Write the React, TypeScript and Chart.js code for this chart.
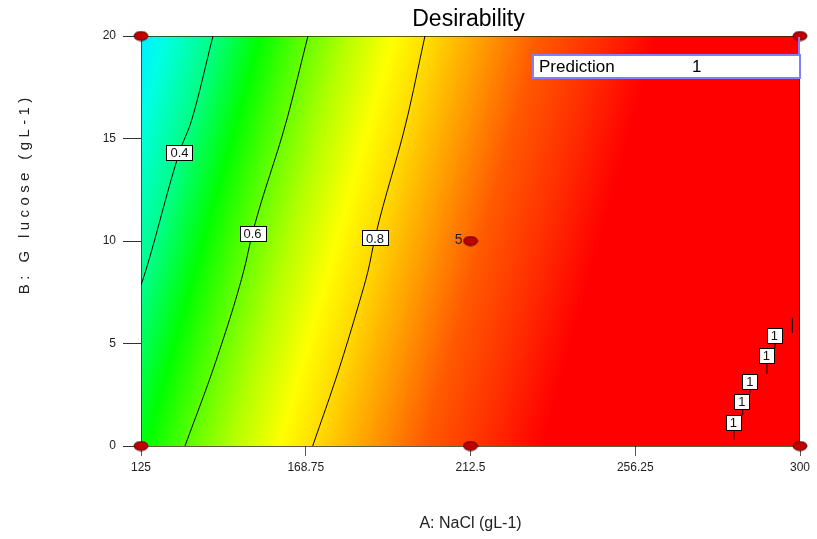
import React, { useEffect, useRef } from 'react';
import { Chart, registerables } from 'chart.js';
Chart.register(...registerables);

// ---------- data ----------
const xTicks = [125, 168.75, 212.5, 256.25, 300];
const yTicks = [0, 5, 10, 15, 20];
const xMin = 125;
const xMax = 300;
const yMin = 0;
const yMax = 20;

const chartTitle = 'Desirability';
const xTitle = 'A: NaCl (gL-1)';
const yTitle = 'B: G lucose (gL-1)';

// design points (NaCl, Glucose) and replicate counts
const designX = [125, 125, 212.5, 212.5, 300, 300];
const designY = [0, 20, 0, 10, 0, 20];
const designReps = [1, 1, 1, 5, 1, 1];

// contour lines
const contour04X = [125, 126.33, 135.22, 138.46, 144.12];
const contour04Y = [7.85, 8.59, 14.34, 15.9, 20];
const contour06X = [136.68, 145.0, 152.35, 154.61, 163.69, 169.34];
const contour06Y = [0, 4.2, 8.59, 10.39, 15.9, 20];
const contour08X = [170.59, 177.5, 183.15, 185.36, 187.13, 195.55, 200.41];
const contour08Y = [0, 3.7, 7.12, 8.59, 10.15, 15.9, 20];
const contour1X = [282.46, 282.46, null, 284.77, 284.77, null, 286.71, 286.71, null, 291.22, 291.22, null, 293.35, 293.35, null, 297.97, 297.97];
const contour1Y = [0.29, 0.83, null, 1.51, 1.8, null, 2.54, 2.83, null, 3.51, 4.05, null, 4.78, 5.02, null, 5.51, 6.24];

// contour labels
const contourLabelText = ['0.4', '0.6', '0.8', '1', '1', '1', '1', '1'];
const contourLabelX = [135.22, 154.61, 187.13, 282.33, 284.59, 286.71, 291.09, 293.22];
const contourLabelY = [14.34, 10.39, 10.15, 1.17, 2.17, 3.17, 4.41, 5.39];

// prediction flag
const predictionName = 'Prediction';
const predictionValue = 1;
const predictionX = 300;
const predictionY = 20;

// desirability colour ramp: NaCl value along glucose = rampRefY, iso-lines shift by rampTilt per glucose unit
const rampX = [98, 106, 112, 125, 137.2, 149.4, 160, 172.5, 183.2, 195.6, 211, 227.5, 242.4, 320];
const rampRefY = 7.12;
const rampTilt = 1.52;

// ---------- styles ----------
const FONT = 'Arial, "Liberation Sans", sans-serif';
const rampColors = [
  'rgb(0,200,255)', 'rgb(0,238,255)', 'rgb(0,255,228)', 'rgb(0,255,130)', 'rgb(0,255,0)',
  'rgb(100,255,0)', 'rgb(180,255,0)', 'rgb(255,255,0)', 'rgb(255,215,0)', 'rgb(255,160,0)',
  'rgb(255,90,0)', 'rgb(255,45,0)', 'rgb(255,0,0)', 'rgb(255,0,0)',
];

function makeEllipse(): HTMLCanvasElement {
  const c = document.createElement('canvas');
  c.width = 16;
  c.height = 11;
  const g = c.getContext('2d')!;
  g.beginPath();
  g.ellipse(8, 5.5, 7, 4.5, 0, 0, Math.PI * 2);
  g.fillStyle = '#c00000';
  g.fill();
  g.strokeStyle = '#4a0000';
  g.lineWidth = 1;
  g.stroke();
  return c;
}

const toPts = (xs: (number | null)[], ys: (number | null)[]) =>
  xs.map((x, i) => ({ x: x as number, y: ys[i] as number }));

export default function App() {
  const ref = useRef<HTMLCanvasElement>(null);

  useEffect(() => {
    const canvas = ref.current!;
    const ellipse = makeEllipse();

    const bgPlugin = {
      id: 'bgRamp',
      beforeDatasetsDraw(chart: any) {
        const { ctx, chartArea: a, scales } = chart;
        const xs = scales.x;
        const ys = scales.y;
        const x0 = xs.getPixelForValue(rampX[0]);
        const x1 = xs.getPixelForValue(rampX[rampX.length - 1]);
        const yr = ys.getPixelForValue(rampRefY);
        const dx = xs.getPixelForValue(rampX[0] + rampTilt) - x0;
        const dy = ys.getPixelForValue(rampRefY + 1) - yr;
        let ux = -dy;
        let uy = dx;
        const n = Math.hypot(ux, uy);
        ux /= n;
        uy /= n;
        const L = (x1 - x0) * ux;
        const g = ctx.createLinearGradient(x0, yr, x0 + L * ux, yr + L * uy);
        rampX.forEach((v, i) => {
          const t = (xs.getPixelForValue(v) - x0) / (x1 - x0);
          g.addColorStop(Math.min(1, Math.max(0, t)), rampColors[i]);
        });
        ctx.save();
        ctx.fillStyle = g;
        ctx.fillRect(a.left, a.top, a.right - a.left, a.bottom - a.top);
        ctx.strokeStyle = 'rgba(40,40,0,0.75)';
        ctx.lineWidth = 1;
        ctx.strokeRect(a.left + 0.5, a.top + 0.5, a.right - a.left - 1, a.bottom - a.top);
        ctx.restore();
      },
      afterDatasetsDraw(chart: any) {
        const { ctx, scales } = chart;
        const xs = scales.x;
        const ys = scales.y;
        ctx.save();
        // contour labels
        ctx.font = `13px ${FONT}`;
        ctx.textAlign = 'center';
        ctx.textBaseline = 'middle';
        contourLabelText.forEach((t, i) => {
          const px = xs.getPixelForValue(contourLabelX[i]);
          const py = ys.getPixelForValue(contourLabelY[i]);
          const w = Math.round(ctx.measureText(t).width + 8);
          const h = 15;
          const l = Math.round(px - w / 2) + 0.5;
          const tp = Math.round(py - h / 2) + 0.5;
          ctx.fillStyle = '#ffffff';
          ctx.fillRect(l, tp, w, h);
          ctx.strokeStyle = '#000000';
          ctx.lineWidth = 1;
          ctx.strokeRect(l, tp, w, h);
          ctx.fillStyle = '#111111';
          ctx.fillText(t, px, py + 1);
        });
        // replicate counts
        ctx.font = `14px ${FONT}`;
        ctx.textAlign = 'right';
        ctx.fillStyle = '#222222';
        designReps.forEach((r, i) => {
          if (r > 1) {
            ctx.fillText(String(r), xs.getPixelForValue(designX[i]) - 8, ys.getPixelForValue(designY[i]) - 1);
          }
        });
        // prediction flag
        const fx = xs.getPixelForValue(predictionX);
        const fy = ys.getPixelForValue(predictionY);
        const boxTop = fy + 19;
        const boxH = 23;
        const boxW = 267;
        ctx.strokeStyle = '#8080ff';
        ctx.lineWidth = 2;
        ctx.beginPath();
        ctx.moveTo(fx - 1, fy + 1);
        ctx.lineTo(fx - 1, boxTop);
        ctx.stroke();
        ctx.fillStyle = '#ffffff';
        ctx.fillRect(fx - boxW, boxTop, boxW, boxH);
        ctx.strokeRect(fx - boxW, boxTop, boxW, boxH);
        ctx.fillStyle = '#000000';
        ctx.font = `17px ${FONT}`;
        ctx.textAlign = 'left';
        ctx.textBaseline = 'alphabetic';
        ctx.fillText(predictionName, fx - boxW + 6, boxTop + 17);
        ctx.fillText(String(predictionValue), fx - boxW + 159, boxTop + 17);
        ctx.restore();
      },
      afterDraw(chart: any) {
        const { ctx, chartArea: a } = chart;
        ctx.save();
        ctx.fillStyle = '#000000';
        ctx.textAlign = 'center';
        ctx.textBaseline = 'alphabetic';
        ctx.font = `23px ${FONT}`;
        ctx.fillText(chartTitle, (a.left + a.right) / 2 - 2, a.top - 10);
        ctx.fillStyle = '#222222';
        ctx.font = `16px ${FONT}`;
        ctx.fillText(xTitle, (a.left + a.right) / 2, a.bottom + 82);
        // y title with letter spacing
        ctx.font = `15px ${FONT}`;
        const sp = 4.4;
        const chars = Array.from(yTitle);
        const widths = chars.map((c) => ctx.measureText(c).width);
        const total = widths.reduce((s, w) => s + w, 0) + sp * (chars.length - 1);
        ctx.translate(29, a.top + (a.bottom - a.top) * 0.39);
        ctx.rotate(-Math.PI / 2);
        ctx.textAlign = 'left';
        let cx = -total / 2;
        chars.forEach((c, i) => {
          ctx.fillText(c, cx, 0);
          cx += widths[i] + sp;
        });
        ctx.restore();
      },
    };

    const lineDs = (xs: any[], ys: any[]) => ({
      type: 'line' as const,
      data: toPts(xs, ys),
      borderColor: '#000000',
      borderWidth: 1,
      pointRadius: 0,
      showLine: true,
      fill: false,
      spanGaps: false,
      tension: 0.3,
      cubicInterpolationMode: 'monotone' as const,
    });

    const chart = new Chart(canvas, {
      type: 'scatter',
      data: {
        datasets: [
          {
            data: toPts(designX, designY),
            pointStyle: ellipse as any,
            pointRadius: 6,
            clip: false as any,
            showLine: false,
          } as any,
          lineDs(contour04X, contour04Y),
          lineDs(contour06X, contour06Y),
          lineDs(contour08X, contour08Y),
          { ...lineDs(contour1X, contour1Y), tension: 0, cubicInterpolationMode: 'default' },
        ],
      },
      options: {
        animation: false,
        responsive: false,
        layout: { padding: { left: 0, right: 17, top: 36, bottom: 0 } },
        plugins: {
          legend: { display: false },
          title: { display: false },
          tooltip: { enabled: false },
        },
        scales: {
          x: {
            type: 'linear',
            min: xMin,
            max: xMax,
            afterBuildTicks: (s: any) => {
              s.ticks = xTicks.map((v) => ({ value: v }));
            },
            afterFit: (s: any) => {
              s.height = 93;
            },
            ticks: {
              autoSkip: false,
              maxRotation: 0,
              padding: 4,
              color: '#222222',
              font: { family: FONT, size: 12 },
              callback: (v: any) => String(v),
            },
            grid: { drawOnChartArea: false, tickLength: 10, tickColor: '#555555', color: '#555555' },
            border: { display: false },
          },
          y: {
            type: 'linear',
            min: yMin,
            max: yMax,
            afterBuildTicks: (s: any) => {
              s.ticks = yTicks.map((v) => ({ value: v }));
            },
            afterFit: (s: any) => {
              s.width = 141;
            },
            ticks: {
              autoSkip: false,
              padding: 7,
              color: '#222222',
              font: { family: FONT, size: 12 },
              callback: (v: any) => String(v),
            },
            grid: { drawOnChartArea: false, tickLength: 18, tickColor: '#333333', color: '#333333' },
            border: { display: false },
          },
        },
      },
      plugins: [bgPlugin],
    } as any);

    return () => chart.destroy();
  }, []);

  return (
    <div style={{ position: 'absolute', left: 0, top: 0, width: 817, height: 539, background: '#ffffff' }}>
      <canvas ref={ref} width={817} height={539} style={{ display: 'block' }} />
    </div>
  );
}
